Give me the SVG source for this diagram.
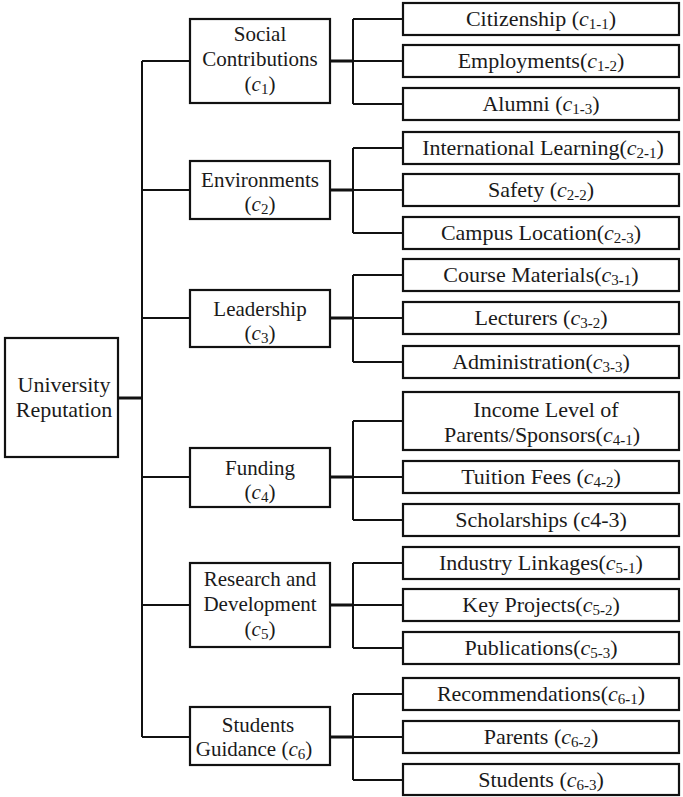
<svg xmlns="http://www.w3.org/2000/svg" width="683" height="797" viewBox="0 0 683 797">
<style>
.box{fill:#fff;stroke:#111;stroke-width:2.2}
.ln{fill:none;stroke:#111;stroke-width:2}
.th{fill:none;stroke:#111;stroke-width:3}
text{font-family:"Liberation Serif","Times New Roman",serif;font-size:22px;fill:#1a1a1a;text-anchor:middle}
.m{font-size:21px}
.i{font-style:italic}
.s{font-size:15px}
.b{font-weight:bold}
</style>
<rect width="683" height="797" fill="#fff"/>
<g id="connectors">
<path class="th" d="M118 398H142"/>
<path class="ln" d="M142 61V737M142 61H190M142 190H190M142 318H190M142 477H190M142 605H190M142 737H190"/>
<path class="th" d="M330 61H353M330 190H353M330 318H353M330 477H353M330 605H353M330 737H353"/>
<path class="ln" d="M353 19V104M353 19H403M353 61H403M353 104H403"/>
<path class="ln" d="M353 148V233M353 148H403M353 190H403M353 233H403"/>
<path class="ln" d="M353 275V362M353 275H403M353 318H403M353 362H403"/>
<path class="ln" d="M353 421V520M353 421H403M353 477H403M353 520H403"/>
<path class="ln" d="M353 563V648M353 563H403M353 605H403M353 648H403"/>
<path class="ln" d="M353 694V780M353 694H403M353 737H403M353 780H403"/>
</g>
<g id="root">
<rect class="box" x="5" y="338" width="113" height="119"/>
<text x="64" y="392">University</text>
<text x="64" y="417">Reputation</text>
</g>
<g id="c1">
<rect class="box" x="190" y="19" width="140" height="84"/>
<text class="m" x="260" y="41">Social</text>
<text class="m" x="260" y="66">Contributions</text>
<text class="m" x="260" y="91">(<tspan class="i">c</tspan><tspan class="s" dy="3">1</tspan><tspan dy="-3">)</tspan></text>
</g>
<g id="c2">
<rect class="box" x="190" y="161" width="140" height="58"/>
<text class="m" x="260" y="187">Environments</text>
<text class="m" x="260" y="211">(<tspan class="i">c</tspan><tspan class="s" dy="3">2</tspan><tspan dy="-3">)</tspan></text>
</g>
<g id="c3">
<rect class="box" x="190" y="290" width="140" height="57"/>
<text class="m" x="260" y="316">Leadership</text>
<text class="m" x="260" y="340">(<tspan class="i">c</tspan><tspan class="s" dy="3">3</tspan><tspan dy="-3">)</tspan></text>
</g>
<g id="c4">
<rect class="box" x="190" y="448" width="140" height="59"/>
<text class="m" x="260" y="475">Funding</text>
<text class="m" x="260" y="499">(<tspan class="i">c</tspan><tspan class="s" dy="3">4</tspan><tspan dy="-3">)</tspan></text>
</g>
<g id="c5">
<rect class="box" x="190" y="563" width="140" height="84"/>
<text class="m" x="260" y="586">Research and</text>
<text class="m" x="260" y="611">Development</text>
<text class="m" x="260" y="636">(<tspan class="i">c</tspan><tspan class="s" dy="3">5</tspan><tspan dy="-3">)</tspan></text>
</g>
<g id="c6">
<rect class="box" x="190" y="707" width="140" height="58"/>
<text class="m" x="258" y="732">Students</text>
<text class="m" x="254" y="756">Guidance (<tspan class="i">c</tspan><tspan class="s" dy="3">6</tspan><tspan dy="-3">)</tspan></text>
</g>
<g id="c1-1">
<rect class="box" x="403" y="3" width="276" height="32"/>
<text x="541" y="26">Citizenship (<tspan class="i">c</tspan><tspan class="s" dy="3">1-1</tspan><tspan dy="-3">)</tspan></text>
</g>
<g id="c1-2">
<rect class="box" x="403" y="45" width="276" height="32"/>
<text x="541" y="68">Employments(<tspan class="i">c</tspan><tspan class="s" dy="3">1<tspan class="b">-</tspan>2</tspan><tspan dy="-3">)</tspan></text>
</g>
<g id="c1-3">
<rect class="box" x="403" y="88" width="276" height="32"/>
<text x="541" y="111">Alumni (<tspan class="i">c</tspan><tspan class="s" dy="3">1<tspan class="b">-</tspan>3</tspan><tspan dy="-3">)</tspan></text>
</g>
<g id="c2-1">
<rect class="box" x="403" y="132" width="276" height="32"/>
<text x="543" y="155">International Learning(<tspan class="i">c</tspan><tspan class="s" dy="3">2<tspan class="b">-</tspan>1</tspan><tspan dy="-3">)</tspan></text>
</g>
<g id="c2-2">
<rect class="box" x="403" y="174" width="276" height="32"/>
<text x="541" y="197">Safety (<tspan class="i">c</tspan><tspan class="s" dy="3">2-2</tspan><tspan dy="-3">)</tspan></text>
</g>
<g id="c2-3">
<rect class="box" x="403" y="217" width="276" height="32"/>
<text x="541" y="240">Campus Location(<tspan class="i">c</tspan><tspan class="s" dy="3">2<tspan class="b">-</tspan>3</tspan><tspan dy="-3">)</tspan></text>
</g>
<g id="c3-1">
<rect class="box" x="403" y="259" width="276" height="32"/>
<text x="541" y="282">Course Materials(<tspan class="i">c</tspan><tspan class="s" dy="3">3<tspan class="b">-</tspan>1</tspan><tspan dy="-3">)</tspan></text>
</g>
<g id="c3-2">
<rect class="box" x="403" y="302" width="276" height="32"/>
<text x="541" y="325">Lecturers (<tspan class="i">c</tspan><tspan class="s" dy="3">3<tspan class="b">-</tspan>2</tspan><tspan dy="-3">)</tspan></text>
</g>
<g id="c3-3">
<rect class="box" x="403" y="346" width="276" height="32"/>
<text x="541" y="369">Administration(<tspan class="i">c</tspan><tspan class="s" dy="3">3<tspan class="b">-</tspan>3</tspan><tspan dy="-3">)</tspan></text>
</g>
<g id="c4-1">
<rect class="box" x="403" y="392" width="276" height="58"/>
<text x="546" y="417">Income Level of</text>
<text x="542" y="442">Parents/Sponsors(<tspan class="i">c</tspan><tspan class="s" dy="3">4<tspan class="b">-</tspan>1</tspan><tspan dy="-3">)</tspan></text>
</g>
<g id="c4-2">
<rect class="box" x="403" y="461" width="276" height="32"/>
<text x="541" y="484">Tuition Fees (<tspan class="i">c</tspan><tspan class="s" dy="3">4<tspan class="b">-</tspan>2</tspan><tspan dy="-3">)</tspan></text>
</g>
<g id="c4-3">
<rect class="box" x="403" y="504" width="276" height="32"/>
<text x="541" y="527">Scholarships (c4-3)</text>
</g>
<g id="c5-1">
<rect class="box" x="403" y="547" width="276" height="32"/>
<text x="541" y="570">Industry Linkages(<tspan class="i">c</tspan><tspan class="s" dy="3">5<tspan class="b">-</tspan>1</tspan><tspan dy="-3">)</tspan></text>
</g>
<g id="c5-2">
<rect class="box" x="403" y="589" width="276" height="32"/>
<text x="541" y="612">Key Projects(<tspan class="i">c</tspan><tspan class="s" dy="3">5<tspan class="b">-</tspan>2</tspan><tspan dy="-3">)</tspan></text>
</g>
<g id="c5-3">
<rect class="box" x="403" y="632" width="276" height="32"/>
<text x="541" y="655">Publications(<tspan class="i">c</tspan><tspan class="s" dy="3">5-3</tspan><tspan dy="-3">)</tspan></text>
</g>
<g id="c6-1">
<rect class="box" x="403" y="678" width="276" height="32"/>
<text x="541" y="701">Recommendations(<tspan class="i">c</tspan><tspan class="s" dy="3">6<tspan class="b">-</tspan>1</tspan><tspan dy="-3">)</tspan></text>
</g>
<g id="c6-2">
<rect class="box" x="403" y="721" width="276" height="32"/>
<text x="541" y="744">Parents (<tspan class="i">c</tspan><tspan class="s" dy="3">6<tspan class="b">-</tspan>2</tspan><tspan dy="-3">)</tspan></text>
</g>
<g id="c6-3">
<rect class="box" x="403" y="764" width="276" height="31"/>
<text x="541" y="787">Students (<tspan class="i">c</tspan><tspan class="s" dy="3">6<tspan class="b">-</tspan>3</tspan><tspan dy="-3">)</tspan></text>
</g>
</svg>
